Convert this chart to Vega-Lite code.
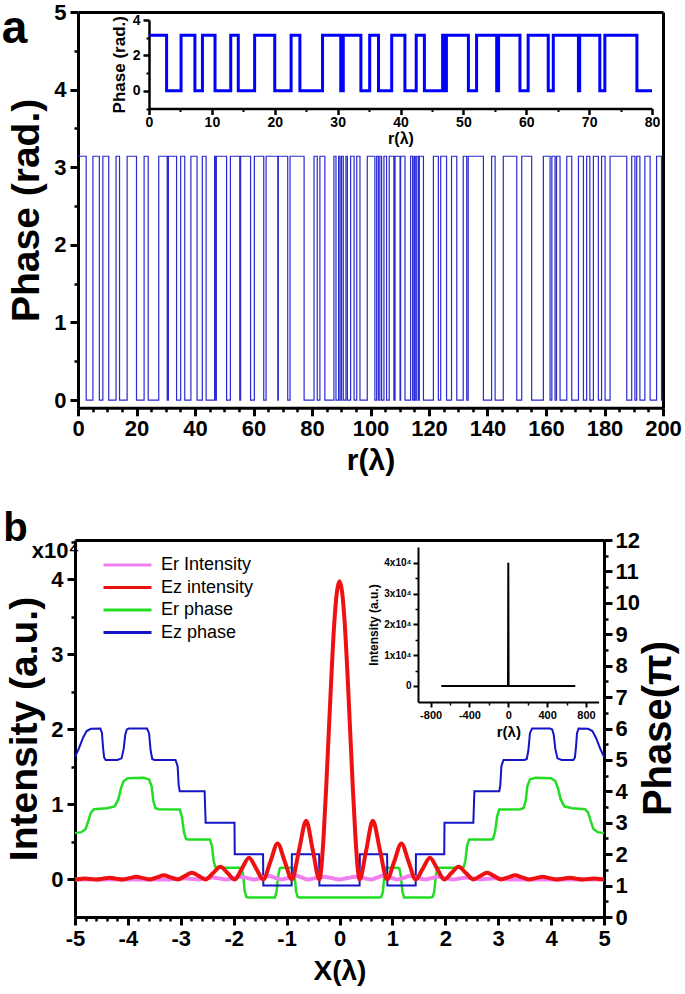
{
"$schema": "https://vega.github.io/schema/vega-lite/v6.json",
"width": 685, "height": 994,
"autosize": {"type": "none"},
"padding": 0,
"background": "white",
"config": {
 "view": {"stroke": null},
 "font": "Liberation Sans",
 "axis": {"grid": false, "domainColor": "black", "tickColor": "black", "labelColor": "black", "titleColor": "black", "labelFont": "Liberation Sans", "titleFont": "Liberation Sans", "labelFontWeight": "bold", "titleFontWeight": "bold", "labelFlush": false, "labelOverlap": false}
},
"datasets": {
 "a_main": [{"r":0,"v":3.1416},{"r":2.8,"v":0},{"r":5.1,"v":3.1416},{"r":7.3,"v":0},{"r":8.5,"v":3.1416},{"r":10.5,"v":0},{"r":13.0,"v":3.1416},{"r":14.2,"v":0},{"r":16.8,"v":3.1416},{"r":20.0,"v":0},{"r":22.6,"v":3.1416},{"r":24.0,"v":0},{"r":27.6,"v":3.1416},{"r":30.5,"v":0},{"r":30.9,"v":3.1416},{"r":33.7,"v":0},{"r":35.1,"v":3.1416},{"r":36.5,"v":0},{"r":38.6,"v":3.1416},{"r":40.7,"v":0},{"r":42.5,"v":3.1416},{"r":43.8,"v":0},{"r":46.7,"v":3.1416},{"r":47.1,"v":0},{"r":47.3,"v":3.1416},{"r":50.8,"v":0},{"r":52.1,"v":3.1416},{"r":55.3,"v":0},{"r":55.6,"v":3.1416},{"r":59.0,"v":0},{"r":60.3,"v":3.1416},{"r":63.5,"v":0},{"r":64.3,"v":3.1416},{"r":68.3,"v":0},{"r":68.5,"v":3.1416},{"r":71.7,"v":0},{"r":72.5,"v":3.1416},{"r":77.3,"v":0},{"r":80.7,"v":3.1416},{"r":81.8,"v":0},{"r":82.7,"v":3.1416},{"r":84.4,"v":0},{"r":87.5,"v":3.1416},{"r":88.2,"v":0},{"r":89.1,"v":3.1416},{"r":89.6,"v":0},{"r":90.1,"v":3.1416},{"r":90.7,"v":0},{"r":91.6,"v":3.1416},{"r":92.1,"v":0},{"r":93.2,"v":3.1416},{"r":94.4,"v":0},{"r":95.3,"v":3.1416},{"r":96.4,"v":0},{"r":98.9,"v":3.1416},{"r":101.5,"v":0},{"r":102.1,"v":3.1416},{"r":102.7,"v":0},{"r":103.2,"v":3.1416},{"r":103.8,"v":0},{"r":104.6,"v":3.1416},{"r":105.5,"v":0},{"r":106.4,"v":3.1416},{"r":108.0,"v":0},{"r":108.4,"v":3.1416},{"r":110.1,"v":0},{"r":110.3,"v":3.1416},{"r":111.8,"v":0},{"r":113.7,"v":3.1416},{"r":114.4,"v":0},{"r":114.9,"v":3.1416},{"r":115.3,"v":0},{"r":115.8,"v":3.1416},{"r":116.4,"v":0},{"r":116.7,"v":3.1416},{"r":118.1,"v":0},{"r":121.5,"v":3.1416},{"r":123.2,"v":0},{"r":124.0,"v":3.1416},{"r":126.0,"v":0},{"r":127.7,"v":3.1416},{"r":129.5,"v":0},{"r":131.7,"v":3.1416},{"r":132.9,"v":0},{"r":133.4,"v":3.1416},{"r":138.6,"v":0},{"r":141.4,"v":3.1416},{"r":142.6,"v":0},{"r":145.4,"v":3.1416},{"r":150.0,"v":0},{"r":151.7,"v":3.1416},{"r":155.1,"v":0},{"r":159.1,"v":3.1416},{"r":161.4,"v":0},{"r":162.0,"v":3.1416},{"r":163.1,"v":0},{"r":163.6,"v":3.1416},{"r":164.8,"v":0},{"r":167.1,"v":3.1416},{"r":168.8,"v":0},{"r":171.1,"v":3.1416},{"r":172.8,"v":0},{"r":173.9,"v":3.1416},{"r":175.0,"v":0},{"r":176.2,"v":3.1416},{"r":177.9,"v":0},{"r":179.0,"v":3.1416},{"r":180.2,"v":0},{"r":181.9,"v":3.1416},{"r":187.6,"v":0},{"r":189.3,"v":3.1416},{"r":190.4,"v":0},{"r":191.0,"v":3.1416},{"r":192.1,"v":0},{"r":193.8,"v":3.1416},{"r":195.6,"v":0},{"r":197.8,"v":3.1416},{"r":199.5,"v":0},{"r":200,"v":0}],
 "a_inset": [{"r":0,"v":3.1416},{"r":2.8,"v":0},{"r":5.1,"v":3.1416},{"r":7.3,"v":0},{"r":8.5,"v":3.1416},{"r":10.5,"v":0},{"r":13.0,"v":3.1416},{"r":14.2,"v":0},{"r":16.8,"v":3.1416},{"r":20.0,"v":0},{"r":22.6,"v":3.1416},{"r":24.0,"v":0},{"r":27.6,"v":3.1416},{"r":30.5,"v":0},{"r":30.9,"v":3.1416},{"r":33.7,"v":0},{"r":35.1,"v":3.1416},{"r":36.5,"v":0},{"r":38.6,"v":3.1416},{"r":40.7,"v":0},{"r":42.5,"v":3.1416},{"r":43.8,"v":0},{"r":46.7,"v":3.1416},{"r":47.1,"v":0},{"r":47.3,"v":3.1416},{"r":50.8,"v":0},{"r":52.1,"v":3.1416},{"r":55.3,"v":0},{"r":55.6,"v":3.1416},{"r":59.0,"v":0},{"r":60.3,"v":3.1416},{"r":63.5,"v":0},{"r":64.3,"v":3.1416},{"r":68.3,"v":0},{"r":68.5,"v":3.1416},{"r":71.7,"v":0},{"r":72.5,"v":3.1416},{"r":77.6,"v":0},{"r":80,"v":0}],
 "b_ezph": [{"x":-5.0,"y":5.1},{"x":-4.93,"y":5.35},{"x":-4.85,"y":5.7},{"x":-4.78,"y":5.92},{"x":-4.7,"y":5.99},{"x":-4.52,"y":6.0},{"x":-4.49,"y":5.85},{"x":-4.47,"y":5.4},{"x":-4.45,"y":5.08},{"x":-4.42,"y":5.0},{"x":-4.2,"y":5.0},{"x":-4.12,"y":5.05},{"x":-4.08,"y":5.35},{"x":-4.05,"y":5.8},{"x":-4.02,"y":5.97},{"x":-3.98,"y":6.0},{"x":-3.64,"y":6.0},{"x":-3.6,"y":5.85},{"x":-3.57,"y":5.3},{"x":-3.54,"y":5.03},{"x":-3.5,"y":5.0},{"x":-3.1,"y":5.0},{"x":-3.06,"y":4.8},{"x":-3.04,"y":4.2},{"x":-3.02,"y":4.0},{"x":-2.55,"y":4.0},{"x":-2.54,"y":3.5},{"x":-2.53,"y":3.0},{"x":-1.985,"y":3.0},{"x":-1.98,"y":2.0},{"x":-1.445,"y":2.0},{"x":-1.44,"y":1.0},{"x":-0.905,"y":1.0},{"x":-0.9,"y":2.0},{"x":-0.385,"y":2.0},{"x":-0.38,"y":1.0},{"x":0.38,"y":1.0},{"x":0.385,"y":2.0},{"x":0.9,"y":2.0},{"x":0.905,"y":1.0},{"x":1.44,"y":1.0},{"x":1.445,"y":2.0},{"x":1.98,"y":2.0},{"x":1.985,"y":3.0},{"x":2.53,"y":3.0},{"x":2.54,"y":3.5},{"x":2.55,"y":4.0},{"x":3.02,"y":4.0},{"x":3.04,"y":4.2},{"x":3.06,"y":4.8},{"x":3.1,"y":5.0},{"x":3.5,"y":5.0},{"x":3.54,"y":5.03},{"x":3.57,"y":5.3},{"x":3.6,"y":5.85},{"x":3.64,"y":6.0},{"x":3.98,"y":6.0},{"x":4.02,"y":5.97},{"x":4.05,"y":5.8},{"x":4.08,"y":5.35},{"x":4.12,"y":5.05},{"x":4.2,"y":5.0},{"x":4.42,"y":5.0},{"x":4.45,"y":5.08},{"x":4.47,"y":5.4},{"x":4.49,"y":5.85},{"x":4.52,"y":6.0},{"x":4.7,"y":5.99},{"x":4.78,"y":5.92},{"x":4.85,"y":5.7},{"x":4.93,"y":5.35},{"x":5.0,"y":5.1}],
 "b_erph": [{"x":-5.0,"y":2.67},{"x":-4.88,"y":2.7},{"x":-4.8,"y":2.8},{"x":-4.75,"y":3.05},{"x":-4.7,"y":3.32},{"x":-4.64,"y":3.43},{"x":-4.4,"y":3.46},{"x":-4.25,"y":3.52},{"x":-4.18,"y":3.75},{"x":-4.13,"y":4.1},{"x":-4.08,"y":4.33},{"x":-4.0,"y":4.42},{"x":-3.7,"y":4.43},{"x":-3.6,"y":4.38},{"x":-3.55,"y":4.15},{"x":-3.52,"y":3.7},{"x":-3.48,"y":3.47},{"x":-3.42,"y":3.43},{"x":-3.02,"y":3.42},{"x":-2.98,"y":3.2},{"x":-2.94,"y":2.7},{"x":-2.9,"y":2.48},{"x":-2.86,"y":2.47},{"x":-2.45,"y":2.47},{"x":-2.41,"y":2.25},{"x":-2.38,"y":1.8},{"x":-2.35,"y":1.6},{"x":-2.31,"y":1.57},{"x":-1.85,"y":1.57},{"x":-1.82,"y":1.3},{"x":-1.79,"y":0.8},{"x":-1.76,"y":0.64},{"x":-1.72,"y":0.62},{"x":-1.22,"y":0.62},{"x":-1.19,"y":0.8},{"x":-1.16,"y":1.3},{"x":-1.13,"y":1.55},{"x":-1.1,"y":1.57},{"x":-0.88,"y":1.57},{"x":-0.85,"y":1.35},{"x":-0.82,"y":0.8},{"x":-0.79,"y":0.64},{"x":-0.75,"y":0.62},{"x":0.75,"y":0.62},{"x":0.79,"y":0.64},{"x":0.82,"y":0.8},{"x":0.85,"y":1.35},{"x":0.88,"y":1.57},{"x":1.1,"y":1.57},{"x":1.13,"y":1.55},{"x":1.16,"y":1.3},{"x":1.19,"y":0.8},{"x":1.22,"y":0.62},{"x":1.72,"y":0.62},{"x":1.76,"y":0.64},{"x":1.79,"y":0.8},{"x":1.82,"y":1.3},{"x":1.85,"y":1.57},{"x":2.31,"y":1.57},{"x":2.35,"y":1.6},{"x":2.38,"y":1.8},{"x":2.41,"y":2.25},{"x":2.45,"y":2.47},{"x":2.86,"y":2.47},{"x":2.9,"y":2.48},{"x":2.94,"y":2.7},{"x":2.98,"y":3.2},{"x":3.02,"y":3.42},{"x":3.42,"y":3.43},{"x":3.48,"y":3.47},{"x":3.52,"y":3.7},{"x":3.55,"y":4.15},{"x":3.6,"y":4.38},{"x":3.7,"y":4.43},{"x":4.0,"y":4.42},{"x":4.08,"y":4.33},{"x":4.13,"y":4.1},{"x":4.18,"y":3.75},{"x":4.25,"y":3.52},{"x":4.4,"y":3.46},{"x":4.64,"y":3.43},{"x":4.7,"y":3.32},{"x":4.75,"y":3.05},{"x":4.8,"y":2.8},{"x":4.88,"y":2.7},{"x":5.0,"y":2.67}],
 "b_ezint": [{"x":-5,"y":0.003},{"x":-4.91,"y":0.007},{"x":-4.82,"y":0.014},{"x":-4.71,"y":0.007},{"x":-4.6,"y":0},{"x":-4.475,"y":0.011},{"x":-4.35,"y":0.022},{"x":-4.225,"y":0.011},{"x":-4.1,"y":0},{"x":-3.97,"y":0.018},{"x":-3.84,"y":0.035},{"x":-3.71,"y":0.018},{"x":-3.58,"y":0},{"x":-3.45,"y":0.028},{"x":-3.32,"y":0.055},{"x":-3.19,"y":0.028},{"x":-3.06,"y":0},{"x":-2.925,"y":0.045},{"x":-2.79,"y":0.09},{"x":-2.66,"y":0.045},{"x":-2.53,"y":0},{"x":-2.39,"y":0.085},{"x":-2.25,"y":0.17},{"x":-2.115,"y":0.085},{"x":-1.98,"y":0},{"x":-1.845,"y":0.145},{"x":-1.71,"y":0.29},{"x":-1.575,"y":0.145},{"x":-1.44,"y":0},{"x":-1.305,"y":0.24},{"x":-1.17,"y":0.48},{"x":-1.035,"y":0.24},{"x":-0.9,"y":0},{"x":-0.765,"y":0.39},{"x":-0.63,"y":0.78},{"x":-0.505,"y":0.39},{"x":-0.38,"y":0},{"x":-0.34,"y":0.18},{"x":-0.3,"y":0.58},{"x":-0.25,"y":1.25},{"x":-0.2,"y":2.0},{"x":-0.15,"y":2.75},{"x":-0.1,"y":3.4},{"x":-0.05,"y":3.82},{"x":0,"y":3.97},{"x":0.05,"y":3.82},{"x":0.1,"y":3.4},{"x":0.15,"y":2.75},{"x":0.2,"y":2.0},{"x":0.25,"y":1.25},{"x":0.3,"y":0.58},{"x":0.34,"y":0.18},{"x":0.38,"y":0},{"x":0.505,"y":0.39},{"x":0.63,"y":0.78},{"x":0.765,"y":0.39},{"x":0.9,"y":0},{"x":1.035,"y":0.24},{"x":1.17,"y":0.48},{"x":1.305,"y":0.24},{"x":1.44,"y":0},{"x":1.575,"y":0.145},{"x":1.71,"y":0.29},{"x":1.845,"y":0.145},{"x":1.98,"y":0},{"x":2.115,"y":0.085},{"x":2.25,"y":0.17},{"x":2.39,"y":0.085},{"x":2.53,"y":0},{"x":2.66,"y":0.045},{"x":2.79,"y":0.09},{"x":2.925,"y":0.045},{"x":3.06,"y":0},{"x":3.19,"y":0.028},{"x":3.32,"y":0.055},{"x":3.45,"y":0.028},{"x":3.58,"y":0},{"x":3.71,"y":0.018},{"x":3.84,"y":0.035},{"x":3.97,"y":0.018},{"x":4.1,"y":0},{"x":4.225,"y":0.011},{"x":4.35,"y":0.022},{"x":4.475,"y":0.011},{"x":4.6,"y":0},{"x":4.71,"y":0.007},{"x":4.82,"y":0.014},{"x":4.91,"y":0.007},{"x":5,"y":0.003}],
 "b_erint": [{"x":-5,"y":0},{"x":-3.2,"y":0},{"x":-3.06,"y":0.008},{"x":-2.93,"y":0.015},{"x":-2.8,"y":0.008},{"x":-2.67,"y":0},{"x":-2.535,"y":0.013},{"x":-2.4,"y":0.025},{"x":-2.27,"y":0.013},{"x":-2.14,"y":0},{"x":-2.0,"y":0.018},{"x":-1.86,"y":0.035},{"x":-1.74,"y":0.018},{"x":-1.62,"y":0},{"x":-1.475,"y":0.022},{"x":-1.33,"y":0.045},{"x":-1.215,"y":0.022},{"x":-1.1,"y":0},{"x":-0.96,"y":0.025},{"x":-0.82,"y":0.05},{"x":-0.71,"y":0.025},{"x":-0.6,"y":0},{"x":-0.45,"y":0.018},{"x":-0.3,"y":0.035},{"x":-0.15,"y":0.018},{"x":0,"y":0},{"x":0.15,"y":0.018},{"x":0.3,"y":0.035},{"x":0.45,"y":0.018},{"x":0.6,"y":0},{"x":0.71,"y":0.025},{"x":0.82,"y":0.05},{"x":0.96,"y":0.025},{"x":1.1,"y":0},{"x":1.215,"y":0.022},{"x":1.33,"y":0.045},{"x":1.475,"y":0.022},{"x":1.62,"y":0},{"x":1.74,"y":0.018},{"x":1.86,"y":0.035},{"x":2.0,"y":0.018},{"x":2.14,"y":0},{"x":2.27,"y":0.013},{"x":2.4,"y":0.025},{"x":2.535,"y":0.013},{"x":2.67,"y":0},{"x":2.8,"y":0.008},{"x":2.93,"y":0.015},{"x":3.06,"y":0.008},{"x":3.2,"y":0},{"x":5,"y":0}],
 "b_inset": [{"r":-690,"i":0},{"r":-3,"i":0},{"r":0,"i":40000},{"r":3,"i":0},{"r":690,"i":0}]
},
"layer": [
 {"data": {"name": "a_main"},
  "mark": {"type": "line", "interpolate": "step-after", "color": "#2b2bd2", "strokeWidth": 1.2},
  "encoding": {
   "x": {"field": "r", "type": "quantitative", "scale": {"domain": [0,200], "range": [78,663], "nice": false, "zero": false},
    "axis": {"orient": "bottom", "offset": -586.2, "values": [0,20,40,60,80,100,120,140,160,180,200], "tickSize": 8, "tickWidth": 3, "domainWidth": 3, "labelFontSize": 22, "labelPadding": 3, "title": "r(λ)", "titleFontSize": 30, "titlePadding": 6}},
   "y": {"field": "v", "type": "quantitative", "scale": {"domain": [-0.1,5], "range": [407.8,12], "nice": false, "zero": false},
    "axis": {"orient": "left", "offset": -78, "values": [0,1,2,3,4,5], "tickSize": 8, "tickWidth": 3, "domainWidth": 3, "labelFontSize": 22, "labelPadding": 4, "title": "Phase (rad.)", "titleFontSize": 39, "titlePadding": 7}}
  }},
 {"data": {"name": "a_main"},
  "mark": {"type": "point", "opacity": 0},
  "encoding": {
   "x": {"field": "r", "type": "quantitative", "scale": {"domain": [0,200], "range": [78,663], "nice": false, "zero": false},
    "axis": {"orient": "bottom", "offset": -586.2, "values": [5,10,15,25,30,35,45,50,55,65,70,75,85,90,95,105,110,115,125,130,135,145,150,155,165,170,175,185,190,195], "tickSize": 4, "tickWidth": 2.5, "domain": false, "labels": false, "title": null}},
   "y": {"field": "v", "type": "quantitative", "scale": {"domain": [-0.1,5], "range": [407.8,12], "nice": false, "zero": false},
    "axis": {"orient": "left", "offset": -78, "values": [0.5,1.5,2.5,3.5,4.5], "tickSize": 4, "tickWidth": 2.5, "domain": false, "labels": false, "title": null}}
  }},
 {"data": {"name": "a_main"},
  "mark": {"type": "point", "opacity": 0},
  "encoding": {
   "x": {"field": "r", "type": "quantitative", "scale": {"domain": [0,200], "range": [78,663], "nice": false, "zero": false},
    "axis": {"orient": "top", "offset": -12, "ticks": false, "labels": false, "domainWidth": 3, "title": "a", "titleFontSize": 46, "titleX": 14, "titleY": 30, "titleAlign": "center", "titleBaseline": "alphabetic"}},
   "y": {"field": "v", "type": "quantitative", "scale": {"domain": [-0.1,5], "range": [407.8,12], "nice": false, "zero": false},
    "axis": {"orient": "right", "offset": -22, "ticks": false, "labels": false, "domainWidth": 3, "title": null}}
  }},
 {"data": {"name": "a_inset"},
  "mark": {"type": "line", "interpolate": "step-after", "color": "#0000ff", "strokeWidth": 3},
  "encoding": {
   "x": {"field": "r", "type": "quantitative", "scale": {"domain": [0,80], "range": [149,652], "nice": false, "zero": false},
    "axis": {"orient": "bottom", "offset": -885.5, "values": [0,10,20,30,40,50,60,70,80], "tickSize": 6, "tickWidth": 2.5, "domainWidth": 2.5, "labelFontSize": 14, "labelPadding": 1, "title": "r(λ)", "titleFontSize": 16, "titlePadding": 1}},
   "y": {"field": "v", "type": "quantitative", "scale": {"domain": [-1,4], "range": [108.5,20], "nice": false, "zero": false},
    "axis": {"orient": "left", "offset": -149, "values": [0,2,4], "tickSize": 6, "tickWidth": 2.5, "domainWidth": 2.5, "labelFontSize": 14, "labelPadding": 3, "title": "Phase (rad.)", "titleFontSize": 17, "titlePadding": 4}}
  }},
 {"data": {"name": "a_inset"},
  "mark": {"type": "point", "opacity": 0},
  "encoding": {
   "x": {"field": "r", "type": "quantitative", "scale": {"domain": [0,80], "range": [149,652], "nice": false, "zero": false},
    "axis": {"orient": "bottom", "offset": -885.5, "values": [5,15,25,35,45,55,65,75], "tickSize": 3, "tickWidth": 2, "domain": false, "labels": false, "title": null}},
   "y": {"field": "v", "type": "quantitative", "scale": {"domain": [-1,4], "range": [108.5,20], "nice": false, "zero": false},
    "axis": {"orient": "left", "offset": -149, "values": [-1,1,3], "tickSize": 3, "tickWidth": 2, "domain": false, "labels": false, "title": null}}
  }},
 {"data": {"name": "b_erph"},
  "mark": {"type": "line", "strokeWidth": 2.5},
  "encoding": {
   "x": {"field": "x", "type": "quantitative", "scale": {"domain": [-5,5], "range": [75,604], "nice": false, "zero": false},
    "axis": {"orient": "bottom", "offset": -77, "values": [-5,-4,-3,-2,-1,0,1,2,3,4,5], "labelExpr": "datum.value + ''", "tickSize": 8, "tickWidth": 3, "domainWidth": 3, "labelFontSize": 22, "labelPadding": 3, "title": "X(λ)", "titleFontSize": 28, "titlePadding": 8}},
   "y": {"field": "y", "type": "quantitative", "scale": {"domain": [0,12], "range": [917,540], "nice": false, "zero": false},
    "axis": {"orient": "right", "offset": -81, "values": [0,1,2,3,4,5,6,7,8,9,10,11,12], "tickSize": 8, "tickWidth": 3, "domainWidth": 3, "labelFontSize": 22, "labelPadding": 3, "title": "Phase(π)", "titleAngle": 270, "titleFontSize": 40, "titleX": 54, "titleY": 728, "titleAlign": "center", "titleBaseline": "middle"}},
   "color": {"datum": "Er phase", "type": "nominal",
    "scale": {"domain": ["Er Intensity","Ez intensity","Er phase","Ez phase"], "range": ["#f07ff0","#ee1111","#22dd22","#1414c8"]},
    "legend": {"orient": "none", "legendX": 102, "legendY": 554, "title": null, "symbolType": "stroke", "symbolSize": 2300, "symbolStrokeWidth": 3, "clipHeight": 22, "rowPadding": 0.5, "labelFontSize": 18, "labelFont": "Liberation Sans", "labelColor": "black", "labelOffset": 8, "padding": 0}}
  }},
 {"data": {"name": "b_ezph"},
  "mark": {"type": "line", "strokeWidth": 2},
  "encoding": {
   "x": {"field": "x", "type": "quantitative", "scale": {"domain": [-5,5], "range": [75,604], "nice": false, "zero": false}, "axis": null},
   "y": {"field": "y", "type": "quantitative", "scale": {"domain": [0,12], "range": [917,540], "nice": false, "zero": false}, "axis": null},
   "color": {"datum": "Ez phase", "type": "nominal"}
  }},
 {"data": {"name": "b_erint"},
  "mark": {"type": "line", "strokeWidth": 4, "interpolate": "monotone"},
  "encoding": {
   "x": {"field": "x", "type": "quantitative", "scale": {"domain": [-5,5], "range": [75,604], "nice": false, "zero": false}, "axis": null},
   "y": {"field": "y", "type": "quantitative", "scale": {"domain": [-0.5,4.52], "range": [917,540], "nice": false, "zero": false},
    "axis": {"orient": "left", "offset": -75, "values": [0,1,2,3,4], "tickSize": 8, "tickWidth": 3, "domainWidth": 3, "labelFontSize": 22, "labelPadding": 4, "title": "Intensity (a.u.)", "titleFontSize": 39, "titlePadding": 6}},
   "color": {"datum": "Er Intensity", "type": "nominal"}
  }},
 {"data": {"name": "b_ezint"},
  "mark": {"type": "line", "strokeWidth": 4, "interpolate": "monotone"},
  "encoding": {
   "x": {"field": "x", "type": "quantitative", "scale": {"domain": [-5,5], "range": [75,604], "nice": false, "zero": false}, "axis": null},
   "y": {"field": "y", "type": "quantitative", "scale": {"domain": [-0.5,4.52], "range": [917,540], "nice": false, "zero": false}, "axis": null},
   "color": {"datum": "Ez intensity", "type": "nominal"}
  }},
 {"data": {"name": "b_ezint"},
  "mark": {"type": "point", "opacity": 0},
  "encoding": {
   "x": {"field": "x", "type": "quantitative", "scale": {"domain": [-5,5], "range": [75,604], "nice": false, "zero": false},
    "axis": {"orient": "bottom", "offset": -77, "values": [-4.8,-4.6,-4.4,-4.2,-3.8,-3.6,-3.4,-3.2,-2.8,-2.6,-2.4,-2.2,-1.8,-1.6,-1.4,-1.2,-0.8,-0.6,-0.4,-0.2,0.2,0.4,0.6,0.8,1.2,1.4,1.6,1.8,2.2,2.4,2.6,2.8,3.2,3.4,3.6,3.8,4.2,4.4,4.6,4.8], "tickSize": 4, "tickWidth": 2.5, "domain": false, "labels": false, "title": null}},
   "y": {"field": "y", "type": "quantitative", "scale": {"domain": [-0.5,4.52], "range": [917,540], "nice": false, "zero": false},
    "axis": {"orient": "left", "offset": -75, "values": [0.5,1.5,2.5,3.5,4.5], "tickSize": 4, "tickWidth": 2.5, "domain": false, "labels": false, "title": "x10⁴", "titleAngle": 0, "titleFontSize": 22, "titleX": -20, "titleY": 557, "titleAlign": "center", "titleBaseline": "alphabetic"}}
  }},
 {"data": {"name": "b_ezint"},
  "mark": {"type": "point", "opacity": 0},
  "encoding": {
   "x": {"field": "x", "type": "quantitative", "scale": {"domain": [-5,5], "range": [75,604], "nice": false, "zero": false},
    "axis": {"orient": "top", "offset": -540, "ticks": false, "labels": false, "domainWidth": 3, "title": "b", "titleFontSize": 40, "titleX": 15, "titleY": 0, "titleAlign": "center", "titleBaseline": "alphabetic"}},
   "y": {"field": "y", "type": "quantitative", "scale": {"domain": [0,12], "range": [917,540], "nice": false, "zero": false},
    "axis": {"orient": "right", "offset": -81, "values": [0.5,1.5,2.5,3.5,4.5,5.5,6.5,7.5,8.5,9.5,10.5,11.5], "tickSize": 4, "tickWidth": 2.5, "domain": false, "labels": false, "title": null}}
  }},
 {"data": {"name": "b_inset"},
  "mark": {"type": "line", "color": "black", "strokeWidth": 2},
  "encoding": {
   "x": {"field": "r", "type": "quantitative", "scale": {"domain": [-930,930], "range": [418,598.6], "nice": false, "zero": false},
    "axis": {"orient": "bottom", "offset": -292, "values": [-800,-400,0,400,800], "labelExpr": "datum.value + ''", "tickSize": 5, "tickWidth": 2, "domainWidth": 2, "labelFontSize": 11, "labelPadding": 2, "title": "r(λ)", "titleFontSize": 15, "titlePadding": 4}},
   "y": {"field": "i", "type": "quantitative", "scale": {"domain": [-5200,45100], "range": [702,547], "nice": false, "zero": false},
    "axis": {"orient": "left", "offset": -418, "values": [0,10000,20000,30000,40000], "labelExpr": "datum.value == 0 ? '0' : (datum.value / 10000) + 'x10⁴'", "tickSize": 5, "tickWidth": 2, "domainWidth": 2, "labelFontSize": 10, "labelPadding": 2, "title": "Intensity (a.u.)", "titleFontSize": 12, "titlePadding": 3}}
  }},
 {"data": {"name": "b_inset"},
  "mark": {"type": "point", "opacity": 0},
  "encoding": {
   "x": {"field": "r", "type": "quantitative", "scale": {"domain": [-930,930], "range": [418,598.6], "nice": false, "zero": false},
    "axis": {"orient": "bottom", "offset": -292, "values": [-600,-200,200,600], "tickSize": 3, "tickWidth": 1.5, "domain": false, "labels": false, "title": null}},
   "y": {"field": "i", "type": "quantitative", "scale": {"domain": [-5200,45100], "range": [702,547], "nice": false, "zero": false},
    "axis": {"orient": "left", "offset": -418, "values": [5000,15000,25000,35000], "tickSize": 3, "tickWidth": 1.5, "domain": false, "labels": false, "title": null}}
  }}
],
"resolve": {"scale": {"x": "independent", "y": "independent"}, "axis": {"x": "independent", "y": "independent"}}
}
